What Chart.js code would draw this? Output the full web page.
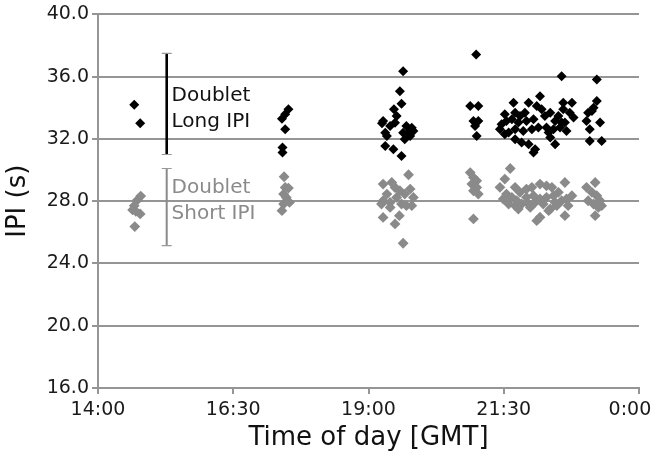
<!DOCTYPE html>
<html>
<head>
<meta charset="utf-8">
<script src="https://cdn.jsdelivr.net/npm/chart.js@4.4.0/dist/chart.umd.min.js"></script>
<style>
  html, body { margin: 0; padding: 0; background: #fff; }
  #wrap { width: 658px; height: 466px; }
</style>
</head>
<body>
<div id="wrap"><canvas id="myChart" width="658" height="466"></canvas></div>
<script>
// time of day in hours (24 = midnight), IPI in seconds
const longTime = [
  14.67, 14.78,
  17.52, 17.46, 17.40, 17.46, 17.41, 17.41,
  19.64, 19.58, 19.61, 19.47, 19.52, 19.27, 19.49, 19.40, 19.70, 19.80, 19.83, 19.64,
  19.77, 19.67, 19.31, 19.34, 19.31, 19.46, 19.61, 19.25, 19.74,
  20.99, 20.88, 21.03, 20.94, 21.03, 20.97, 21.00,
  21.68, 21.96, 22.17, 22.11, 22.20, 21.52, 21.71, 21.89, 21.80, 21.55, 21.46, 21.65,
  21.77, 21.92, 22.05, 22.26, 22.36, 22.45, 22.51, 22.60, 22.76, 22.60, 22.72, 22.79,
  22.63, 22.54, 22.42, 22.29, 22.14, 22.02, 21.86, 21.71, 21.59, 21.43, 21.52, 21.71,
  21.83, 21.96, 22.08, 22.05, 22.36, 22.45, 22.33, 22.57, 22.66, 22.57,
  23.22, 23.22, 23.16, 23.06, 23.13, 23.03, 23.28, 23.09, 23.09, 23.31
];
const longIPI = [
  34.2, 33.0,
  33.9, 33.58, 33.3, 32.62, 31.45, 31.13,
  36.35, 35.07, 34.26, 33.9, 33.47, 33.15, 33.04, 32.83, 32.83, 32.72, 32.51, 32.4,
  32.19, 31.98, 32.4, 32.19, 31.55, 31.34, 30.91, 33.0, 32.4,
  37.42, 34.11, 34.11, 33.15, 33.15, 32.83, 32.19,
  34.33, 34.33, 34.75, 34.11, 33.9, 33.58, 33.69, 33.69, 33.47, 33.15, 32.94, 33.26,
  33.05, 33.15, 33.26, 33.47, 33.69, 33.15, 33.47, 34.33, 34.33, 33.9, 33.69, 33.37,
  33.05, 32.73, 32.62, 32.73, 32.73, 32.62, 32.51, 32.62, 32.41, 32.62, 32.3, 31.98,
  31.77, 31.66, 31.34, 31.13, 32.09, 31.66, 32.41, 33.05, 32.51, 36.03,
  35.82, 34.43, 34.0, 33.69, 33.79, 33.15, 33.05, 32.62, 31.87, 31.87
];
const shortTime = [
  14.79, 14.73, 14.67, 14.64, 14.78, 14.70, 14.68,
  17.44, 17.46, 17.52, 17.43, 17.48, 17.54, 17.43, 17.40,
  19.74, 19.27, 19.43, 19.49, 19.58, 19.77, 19.67, 19.83, 19.27, 19.40, 19.52, 19.61,
  19.70, 19.80, 19.34, 19.27, 19.57, 19.49, 19.64, 19.40, 19.24,
  20.88, 20.94, 21.00, 20.91, 21.00, 20.94, 21.03, 20.94,
  21.62, 21.52, 21.71, 21.43, 21.55, 21.49, 21.65, 21.80, 21.92, 22.02, 22.17, 22.29,
  22.39, 22.63, 22.51, 22.42, 22.29, 22.17, 22.05, 21.92, 21.83, 21.71, 21.59, 21.74,
  21.96, 22.08, 22.23, 22.36, 22.48, 22.57, 22.66, 22.76, 22.69, 22.63, 22.33, 22.17,
  22.11, 21.77, 21.99, 22.45,
  23.19, 23.03, 23.13, 23.22, 23.28, 23.16, 23.25, 23.19, 23.06, 23.31
];
const shortIPI = [
  28.33, 28.08, 27.71, 27.44, 27.18, 27.35, 26.37,
  29.57, 28.88, 28.84, 28.46, 28.24, 27.92, 27.82, 27.39,
  29.7, 29.1, 29.2, 28.88, 28.67, 28.78, 28.46, 28.24, 28.03, 27.92, 28.24, 27.82,
  27.71, 27.71, 28.46, 26.96, 27.07, 26.54, 25.3, 27.6, 27.82,
  29.84, 29.52, 29.31, 29.1, 28.88, 28.67, 28.46, 26.86,
  30.1, 29.42, 28.89, 28.89, 28.46, 28.14, 28.25, 28.57, 28.78, 28.89, 29.1, 28.99,
  28.89, 29.2, 28.57, 28.35, 28.25, 28.14, 28.35, 28.25, 27.82, 27.71, 27.82, 28.03,
  27.82, 27.92, 27.82, 27.5, 27.71, 28.03, 28.14, 28.35, 27.71, 27.07, 27.39, 26.97,
  26.75, 27.5, 27.6, 27.92,
  29.2, 28.89, 28.57, 28.35, 28.03, 27.82, 27.6, 27.07, 28.03, 27.71
];

// range bars (time, low, high)
const rangeTime = 15.27;
const longRange = [31.0, 37.5];
const shortRange = [25.15, 30.1];

// in-plot labels
const noteTime = 15.36;
const longNote = ['Doublet', 'Long IPI'];
const longNoteY = [34.8, 33.09];
const shortNote = ['Doublet', 'Short IPI'];
const shortNoteY = [28.84, 27.18];

const black = '#000000';
const gray = '#8a8a8a';
const gridGray = '#959595';

const toPoints = (xs, ys) => xs.map((x, i) => ({x: x, y: ys[i]}));

const notesPlugin = {
  id: 'notes',
  afterDatasetsDraw(chart) {
    const ctx = chart.ctx;
    const xs = chart.scales.x;
    const ys = chart.scales.y;
    ctx.save();
    ctx.font = '20px "DejaVu Sans"';
    ctx.textAlign = 'left';
    ctx.textBaseline = 'middle';
    const px = xs.getPixelForValue(noteTime);
    ctx.fillStyle = '#111';
    longNote.forEach((t, i) => ctx.fillText(t, px, ys.getPixelForValue(longNoteY[i])));
    ctx.fillStyle = gray;
    shortNote.forEach((t, i) => ctx.fillText(t, px, ys.getPixelForValue(shortNoteY[i])));
    ctx.restore();
  }
};

const fmtTime = (v) => {
  const h = Math.floor(v) % 24;
  const m = Math.round((v - Math.floor(v)) * 60);
  const s = h + ':' + (m < 10 ? '0' + m : m);
  // last label sits inside the canvas edge
  return v >= 24 ? s + '   ' : s;
};

const chart = new Chart(document.getElementById('myChart'), {
  type: 'scatter',
  data: {
    datasets: [
      {
        label: 'Short IPI',
        data: toPoints(shortTime, shortIPI),
        pointStyle: 'rectRot',
        pointRadius: 5.4,
        backgroundColor: gray,
        borderColor: gray,
        borderWidth: 0
      },
      {
        label: 'Long IPI',
        data: toPoints(longTime, longIPI),
        pointStyle: 'rectRot',
        pointRadius: 5,
        backgroundColor: black,
        borderColor: black,
        borderWidth: 0
      },
      {
        type: 'line',
        label: 'long range',
        data: longRange.map(v => ({x: rangeTime, y: v})),
        showLine: true,
        borderColor: black,
        borderWidth: 2.6,
        pointStyle: 'line',
        pointRadius: 5,
        pointBorderColor: '#999',
        pointBorderWidth: 1.2
      },
      {
        type: 'line',
        label: 'short range',
        data: shortRange.map(v => ({x: rangeTime, y: v})),
        showLine: true,
        borderColor: gray,
        borderWidth: 2,
        pointStyle: 'line',
        pointRadius: 5,
        pointBorderColor: '#999',
        pointBorderWidth: 1.2
      }
    ]
  },
  options: {
    responsive: false,
    animation: false,
    layout: { padding: { top: 13, right: 19, left: 0, bottom: 0 } },
    plugins: {
      legend: { display: false },
      tooltip: { enabled: false }
    },
    scales: {
      x: {
        type: 'linear',
        min: 14,
        max: 24,
        afterFit: (s) => { s.height = 78; s.paddingRight = 0; },
        ticks: {
          stepSize: 2.5,
          padding: 5,
          color: '#1a1a1a',
          font: { family: 'DejaVu Sans', size: 19 },
          maxRotation: 0,
          callback: (v) => fmtTime(v)
        },
        grid: {
          drawOnChartArea: false,
          drawTicks: true,
          tickLength: 6,
          color: gridGray,
          lineWidth: 2
        },
        border: { color: gridGray, width: 2 },
        title: {
          display: true,
          text: 'Time of day [GMT]',
          color: '#111',
          font: { family: 'DejaVu Sans', size: 26 },
          padding: { top: 0, bottom: 12 }
        }
      },
      y: {
        min: 16,
        max: 40,
        afterFit: (s) => { s.width = 98; },
        ticks: {
          stepSize: 4,
          padding: 3,
          color: '#1a1a1a',
          font: { family: 'DejaVu Sans', size: 19 },
          callback: (v) => v.toFixed(1)
        },
        grid: {
          color: gridGray,
          lineWidth: 2,
          tickLength: 6
        },
        border: { color: gridGray, width: 2 },
        title: {
          display: true,
          text: 'IPI (s)',
          color: '#111',
          font: { family: 'DejaVu Sans', size: 26 },
          padding: { top: 3, bottom: 0 }
        }
      }
    }
  },
  plugins: [notesPlugin]
});
</script>
</body>
</html>
